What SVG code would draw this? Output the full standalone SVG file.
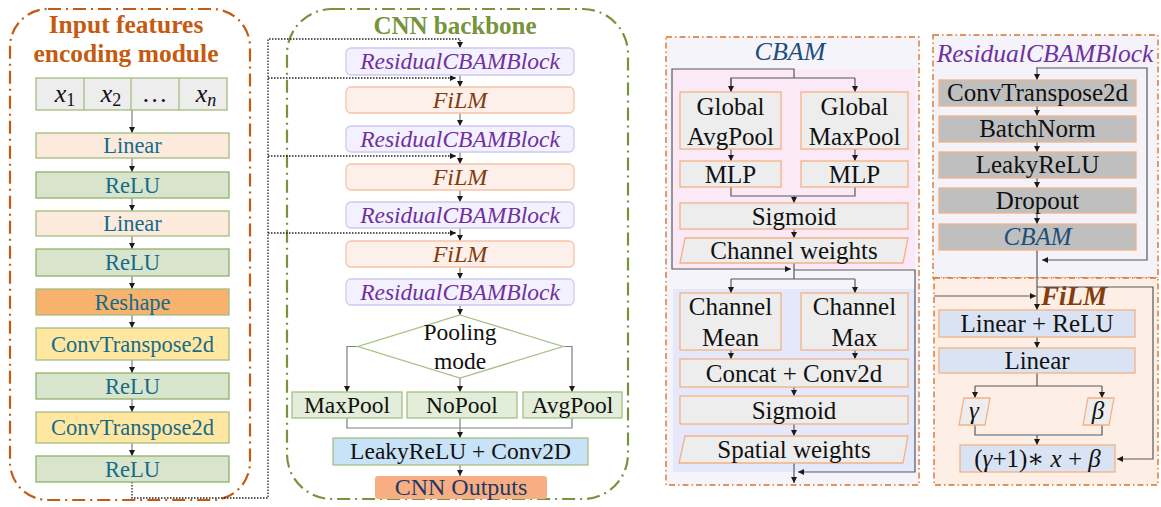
<svg xmlns="http://www.w3.org/2000/svg" width="1161" height="507" viewBox="0 0 1161 507">
  <defs>
    <marker id="arr" viewBox="0 0 6 6" refX="6" refY="3" markerWidth="6" markerHeight="6" markerUnits="userSpaceOnUse" orient="auto">
      <path d="M0,0 L6,3 L0,6 z" fill="#1a1a1a"/>
    </marker>
    <style>
      text { font-family: "Liberation Serif", "Times New Roman", "DejaVu Serif", serif; text-anchor: middle; }
      .frameL { fill: #ffffff; stroke: #C55A11; stroke-width: 2.2; stroke-dasharray: 13 5 2 5; }
      .frameC { fill: #ffffff; stroke: #77933C; stroke-width: 2.2; stroke-dasharray: 13 5 2 5; }
      .panel { stroke: #D9742B; stroke-width: 1.4; stroke-dasharray: 6 3 1.5 3; }
      .tL { font-size: 25.5px; font-weight: bold; fill: #C55A11; }
      .tC { font-size: 25px; font-weight: bold; fill: #77933C; }
      .enc { font-size: 22.5px; fill: #156B8A; }
      .lin { fill: #FCEBDD; stroke: #A3BE7E; stroke-width: 1.3; }
      .relu { fill: #D8E5CC; stroke: #8FB16A; stroke-width: 1.3; }
      .resh { fill: #F7B36E; stroke: #A3BE7E; stroke-width: 1.3; }
      .convt { fill: #FFE7A1; stroke: #A3BE7E; stroke-width: 1.3; }
      .xrow { fill: #EDEDED; stroke: #A3BE7E; stroke-width: 1.3; }
      .math { font-size: 26px; font-style: italic; fill: #111; }
      .rcb { fill: #F3F1FD; stroke: #CFC9F2; stroke-width: 1.3; }
      .film { fill: #FDF0EA; stroke: #F6C3A5; stroke-width: 1.3; }
      .tR { font-size: 23.5px; font-style: italic; fill: #7030A0; }
      .tF { font-size: 24px; font-style: italic; fill: #843C0C; }
      .pool { fill: #E2EED9; stroke: #A6C083; stroke-width: 1.3; }
      .blk { font-size: 23.5px; fill: #111; }
      .lrelu { fill: #C8E2F7; stroke: #A6C083; stroke-width: 1.3; }
      .out { fill: #F7AE82; }
      .gbox { fill: #EDEDED; stroke: #F4B183; stroke-width: 1.3; }
      .dbox { fill: #BFBFBF; stroke: #F4B183; stroke-width: 1.3; }
      .bbox { fill: #DAE3F3; stroke: #F4B183; stroke-width: 1.3; }
      .t25 { font-size: 25px; fill: #111; }
      .ln { fill: none; stroke: #7F7F7F; stroke-width: 1.2; }
      .lnd { fill: none; stroke: #595959; stroke-width: 1.2; }
      .dot { fill: none; stroke: #222; stroke-width: 1.3; stroke-dasharray: 1.5 1.5; }
    </style>
  </defs>

  <rect width="1161" height="507" fill="#ffffff"/>

  <!-- module frames -->
  <g id="input-module-frame">
    <rect class="frameL" x="10" y="9" width="240" height="491" rx="38"/>
    <text class="tL" x="126" y="33">Input features</text>
    <text class="tL" x="126" y="62">encoding module</text>
  </g>
  <g id="cnn-backbone-frame">
    <rect class="frameC" x="287" y="9" width="341" height="490" rx="45"/>
    <text class="tC" x="455" y="34">CNN backbone</text>
  </g>

  <!-- detail panels -->
  <g id="cbam-panel">
    <rect class="panel" x="666" y="37" width="253" height="448" fill="#F5F4FA"/>
    <text x="790" y="60" style="font-size:26px;font-style:italic;fill:#1F4E79">CBAM</text>
    <rect x="672" y="69" width="243" height="200" fill="#FCE9F7"/>
    <rect x="673" y="289" width="242" height="183" fill="#E5E7FA"/>
  </g>
  <g id="residual-panel">
    <rect class="panel" x="933" y="35" width="225" height="243" fill="#F3F3F9"/>
    <text x="1045" y="62" style="font-size:25.5px;font-style:italic;fill:#7030A0">ResidualCBAMBlock</text>
  </g>
  <g id="film-panel">
    <rect class="panel" x="934" y="278" width="224" height="207" fill="#FDEEE6"/>
    <text x="1074" y="305" style="font-size:27px;font-style:italic;font-weight:bold;fill:#843C0C">FiLM</text>
  </g>

  <!-- connectors -->
  <g id="connectors">
    <!-- input encoding chain -->
    <g class="ln" marker-end="url(#arr)">
      <path d="M132 110 V133"/>
      <path d="M132 158 V172"/>
      <path d="M132 198 V211"/>
      <path d="M132 236 V249"/>
      <path d="M132 276 V289"/>
      <path d="M132 315 V328"/>
      <path d="M132 360 V373"/>
      <path d="M132 399 V412"/>
      <path d="M132 443 V456"/>
    </g>
    <!-- conditioning feed into the backbone -->
    <path class="dot" d="M132 482 V498 H268 V39 H460 V48" marker-end="url(#arr)"/>
    <path class="dot" d="M268 78 H456" marker-end="url(#arr)"/>
    <path class="dot" d="M268 156 H456" marker-end="url(#arr)"/>
    <path class="dot" d="M268 233 H456" marker-end="url(#arr)"/>

    <!-- backbone chain -->
    <g class="ln" marker-end="url(#arr)">
      <path d="M460 75 V87"/>
      <path d="M460 113 V126"/>
      <path d="M460 152 V164"/>
      <path d="M460 190 V202"/>
      <path d="M460 228 V241"/>
      <path d="M460 267 V279"/>
      <path d="M460 305 V315"/>
      <path d="M358 346.5 H347 V392"/>
      <path d="M563 346.5 H572 V392"/>
      <path d="M460 378 V392"/>
      <path d="M460 428 V438"/>
      <path d="M460 465 V476"/>
    </g>
    <path class="ln" d="M347 418 V428 H572 V418 M460 418 V428"/>

    <!-- CBAM: channel attention -->
    <path class="lnd" d="M794 78 V69 H672 V269 H791" marker-end="url(#arr)"/>
    <path class="lnd" d="M731 92 V78 H855" />
    <g class="lnd" marker-end="url(#arr)">
      <path d="M731 78 V92"/>
      <path d="M855 78 V92"/>
      <path d="M731 149 V161"/>
      <path d="M855 149 V161"/>
      <path d="M794 196 V203"/>
      <path d="M794 229 V238"/>
    </g>
    <path class="lnd" d="M731 187 V196 H855 V187"/>
    <!-- CBAM: spatial attention -->
    <path class="lnd" d="M794 263 V279 H731 M794 279 H855"/>
    <path class="lnd" d="M794 270 H915 V472 H798" marker-end="url(#arr)"/>
    <g class="lnd" marker-end="url(#arr)">
      <path d="M731 279 V293"/>
      <path d="M855 279 V293"/>
      <path d="M731 350 V359"/>
      <path d="M855 350 V359"/>
      <path d="M794 387 V396"/>
      <path d="M794 424 V436"/>
      <path d="M794 463 V483"/>
    </g>

    <!-- residual block -->
    <g class="lnd" marker-end="url(#arr)">
      <path d="M1037 67 V80"/>
      <path d="M1037 68 H1147 V260 H1042"/>
      <path d="M1037 106 V116"/>
      <path d="M1037 142 V152"/>
      <path d="M1037 178 V188"/>
      <path d="M1037 213 V224"/>
      <path d="M1037 250 V310"/>
    </g>

    <!-- FiLM -->
    <g class="lnd" marker-end="url(#arr)">
      <path d="M1037 287 H1153 V459 H1117"/>
      <path d="M934 296 H1036"/>
      <path d="M1037 337 V348"/>
      <path d="M975 386 V398"/>
      <path d="M1102 386 V398"/>
      <path d="M1037 435 V445"/>
    </g>
    <path class="lnd" d="M1037 373 V386 M975 386 H1102 M975 425 V435 H1102 V425"/>
  </g>

  <!-- input encoding nodes -->
  <g id="x-inputs">
    <rect class="xrow" x="36" y="78" width="191" height="32"/>
    <path d="M84 78 V110 M131 78 V110 M179 78 V110" stroke="#A3BE7E" stroke-width="1.3"/>
    <text class="math" x="65" y="102">x<tspan font-style="normal" font-size="18" dy="4">1</tspan></text>
    <text class="math" x="111" y="102">x<tspan font-style="normal" font-size="18" dy="4">2</tspan></text>
    <text class="math" x="155" y="102" font-style="normal">…</text>
    <text class="math" x="206" y="102">x<tspan font-size="18" dy="4">n</tspan></text>
  </g>
  <g id="enc-linear-1"><rect class="lin" x="36" y="133" width="193" height="25"/><text class="enc" x="132.5" y="153">Linear</text></g>
  <g id="enc-relu-1"><rect class="relu" x="36" y="172" width="193" height="26"/><text class="enc" x="132.5" y="193">ReLU</text></g>
  <g id="enc-linear-2"><rect class="lin" x="36" y="211" width="193" height="25"/><text class="enc" x="132.5" y="231">Linear</text></g>
  <g id="enc-relu-2"><rect class="relu" x="36" y="249" width="193" height="27"/><text class="enc" x="132.5" y="270">ReLU</text></g>
  <g id="enc-reshape"><rect class="resh" x="36" y="289" width="193" height="26"/><text class="enc" x="132.5" y="310">Reshape</text></g>
  <g id="enc-convt-1"><rect class="convt" x="36" y="328" width="193" height="32"/><text class="enc" x="132.5" y="352">ConvTranspose2d</text></g>
  <g id="enc-relu-3"><rect class="relu" x="36" y="373" width="193" height="26"/><text class="enc" x="132.5" y="394">ReLU</text></g>
  <g id="enc-convt-2"><rect class="convt" x="36" y="412" width="193" height="31"/><text class="enc" x="132.5" y="435">ConvTranspose2d</text></g>
  <g id="enc-relu-4"><rect class="relu" x="36" y="456" width="193" height="26"/><text class="enc" x="132.5" y="477">ReLU</text></g>

  <!-- backbone nodes -->
  <g id="bb-rcb-1"><rect class="rcb" x="346" y="48" width="228" height="27" rx="5"/><text class="tR" x="460" y="69">ResidualCBAMBlock</text></g>
  <g id="bb-film-1"><rect class="film" x="346" y="87" width="228" height="26" rx="5"/><text class="tF" x="460" y="108">FiLM</text></g>
  <g id="bb-rcb-2"><rect class="rcb" x="346" y="126" width="228" height="26" rx="5"/><text class="tR" x="460" y="147">ResidualCBAMBlock</text></g>
  <g id="bb-film-2"><rect class="film" x="346" y="164" width="228" height="26" rx="5"/><text class="tF" x="460" y="185">FiLM</text></g>
  <g id="bb-rcb-3"><rect class="rcb" x="346" y="202" width="228" height="26" rx="5"/><text class="tR" x="460" y="223">ResidualCBAMBlock</text></g>
  <g id="bb-film-3"><rect class="film" x="346" y="241" width="228" height="26" rx="5"/><text class="tF" x="460" y="262">FiLM</text></g>
  <g id="bb-rcb-4"><rect class="rcb" x="346" y="279" width="228" height="26" rx="5"/><text class="tR" x="460" y="300">ResidualCBAMBlock</text></g>
  <g id="bb-pooling-mode">
    <polygon points="460,315 563,346.5 460,378 358,346.5" fill="#ffffff" stroke="#A6C083" stroke-width="1.3"/>
    <text class="blk" x="460" y="340" font-size="25">Pooling</text>
    <text class="blk" x="460" y="369" font-size="25">mode</text>
  </g>
  <g id="bb-maxpool"><rect class="pool" x="292" y="392" width="110" height="26"/><text class="blk" x="347" y="413">MaxPool</text></g>
  <g id="bb-nopool"><rect class="pool" x="407" y="392" width="110" height="26"/><text class="blk" x="462" y="413">NoPool</text></g>
  <g id="bb-avgpool"><rect class="pool" x="523" y="392" width="99" height="26"/><text class="blk" x="572.5" y="413">AvgPool</text></g>
  <g id="bb-lrelu-conv"><rect class="lrelu" x="333" y="438" width="255" height="27"/><text class="blk" x="460.5" y="459">LeakyReLU + Conv2D</text></g>
  <g id="bb-outputs"><rect class="out" x="375" y="476" width="172" height="23" rx="3"/><text x="461" y="495" style="font-size:24px;fill:#1F3864">CNN Outputs</text></g>

  <!-- CBAM nodes -->
  <g id="cbam-gap"><rect class="gbox" x="680" y="92" width="101" height="57"/><text class="t25" x="730.5" y="115">Global</text><text class="t25" x="730.5" y="145">AvgPool</text></g>
  <g id="cbam-gmp"><rect class="gbox" x="801" y="92" width="107" height="57"/><text class="t25" x="854.5" y="115">Global</text><text class="t25" x="854.5" y="145">MaxPool</text></g>
  <g id="cbam-mlp-1"><rect class="gbox" x="680" y="161" width="101" height="26"/><text class="t25" x="730.5" y="183">MLP</text></g>
  <g id="cbam-mlp-2"><rect class="gbox" x="801" y="161" width="107" height="26"/><text class="t25" x="854.5" y="183">MLP</text></g>
  <g id="cbam-sigmoid-1"><rect class="gbox" x="680" y="203" width="228" height="26"/><text class="t25" x="794" y="225">Sigmoid</text></g>
  <g id="cbam-channel-weights"><polygon class="gbox" points="685,238 908,238 903,263 680,263"/><text class="t25" x="794" y="259">Channel weights</text></g>
  <g id="cbam-ch-mean"><rect class="gbox" x="680" y="293" width="101" height="57"/><text class="t25" x="730.5" y="315">Channel</text><text class="t25" x="730.5" y="346">Mean</text></g>
  <g id="cbam-ch-max"><rect class="gbox" x="801" y="293" width="107" height="57"/><text class="t25" x="854.5" y="315">Channel</text><text class="t25" x="854.5" y="346">Max</text></g>
  <g id="cbam-concat"><rect class="gbox" x="680" y="359" width="228" height="28"/><text class="t25" x="794" y="382">Concat + Conv2d</text></g>
  <g id="cbam-sigmoid-2"><rect class="gbox" x="680" y="396" width="228" height="28"/><text class="t25" x="794" y="419">Sigmoid</text></g>
  <g id="cbam-spatial-weights"><polygon class="gbox" points="685,436 908,436 903,463 679,463"/><text class="t25" x="794" y="458">Spatial weights</text></g>

  <!-- residual block nodes -->
  <g id="res-convt"><rect class="dbox" x="939" y="80" width="197" height="26"/><text class="t25" x="1037.5" y="101">ConvTranspose2d</text></g>
  <g id="res-bn"><rect class="dbox" x="939" y="116" width="197" height="26"/><text class="t25" x="1037.5" y="137">BatchNorm</text></g>
  <g id="res-lrelu"><rect class="dbox" x="939" y="152" width="197" height="26"/><text class="t25" x="1037.5" y="173">LeakyReLU</text></g>
  <g id="res-dropout"><rect class="dbox" x="939" y="188" width="197" height="25"/><text class="t25" x="1037.5" y="209">Dropout</text></g>
  <g id="res-cbam"><rect class="dbox" x="939" y="224" width="197" height="26"/><text x="1037.5" y="245" style="font-size:25px;font-style:italic;fill:#1F4E79">CBAM</text></g>

  <!-- FiLM nodes -->
  <g id="film-linear-relu"><rect class="bbox" x="939" y="310" width="196" height="27"/><text class="t25" x="1037" y="332">Linear + ReLU</text></g>
  <g id="film-linear"><rect class="bbox" x="939" y="348" width="196" height="25"/><text class="t25" x="1037" y="369">Linear</text></g>
  <g id="film-gamma"><polygon class="gbox" points="964,398 990,398 985,425 959,425"/><text class="t25" x="974" y="419" font-style="italic">γ</text></g>
  <g id="film-beta"><polygon class="gbox" points="1088,398 1114,398 1109,425 1083,425"/><text class="t25" x="1098" y="419" font-style="italic">β</text></g>
  <g id="film-affine"><rect class="bbox" x="960" y="445" width="155" height="27"/><text class="t25" x="1037.5" y="467" font-size="24">(<tspan font-style="italic">γ</tspan>+1)∗ <tspan font-style="italic">x</tspan> + <tspan font-style="italic">β</tspan></text></g>
</svg>
